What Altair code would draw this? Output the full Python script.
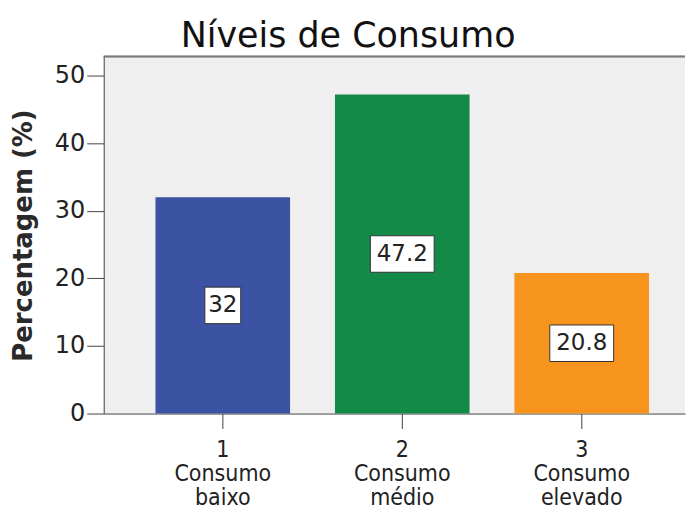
import altair as alt
import pandas as pd

codes = ["1", "2", "3"]
names = ["Consumo baixo", "Consumo médio", "Consumo elevado"]
values = [32, 47.2, 20.8]
colors = ["#3c52a3", "#138a47", "#f7941d"]

cats = [c + "\n" + n.replace(" ", "\n") for c, n in zip(codes, names)]
df = pd.DataFrame({"cat": cats, "pct": values})

W, H = 583, 358
FONT = "DejaVu Sans"

x_axis = alt.Axis(labelExpr="split(datum.label, '\\n')", labelAngle=0, tickSize=15,
                  labelPadding=10, labelFontSize=23, labelLineHeight=24, labelFont="DejaVu Sans Condensed",
                  domainColor="#444", tickColor="#444", labelColor="#222", title=None)
x = alt.X("cat:N", sort=cats, title=None,
          scale=alt.Scale(paddingInner=0.25, paddingOuter=0.2444, align=0.59), axis=x_axis)

y_axis = alt.Axis(values=[0, 10, 20, 30, 40, 50], tickSize=17, labelPadding=2, labelFontSize=24,
                  labelFont=FONT, grid=False, domainColor="#444", tickColor="#444", labelColor="#222",
                  title="Percentagem (%)", titleFontSize=26, titleFont=FONT, titleFontWeight="bold",
                  titleColor="#2a2a2a", titlePadding=18)
yscale = alt.Scale(domain=[0, 52.8], nice=False)

base = alt.Chart(df)

bars = base.mark_bar().encode(
    x=x,
    y=alt.Y("pct:Q", scale=yscale, axis=y_axis, title="Percentagem (%)", stack=None),
    color=alt.Color("cat:N", scale=alt.Scale(domain=cats, range=colors), legend=None),
)

border = base.mark_rule(color="#7a7a7a", strokeWidth=1.5).encode(
    x=alt.value(0), x2=alt.value(W), y=alt.value(0)
)

boxes = base.transform_calculate(
    lo="datum.pct/2 - 2.7", hi="datum.pct/2 + 2.7",
    bw="length(toString(datum.pct)) * 14 + 8",
).mark_bar(color="white", stroke="#333", strokeWidth=1).encode(
    x=x,
    y=alt.Y("lo:Q", scale=yscale, axis=y_axis, title="Percentagem (%)"),
    y2="hi:Q",
    size=alt.Size("bw:Q", scale=None, legend=None),
)

labels = base.transform_calculate(mid="datum.pct/2").mark_text(
    font=FONT, fontSize=23, color="#222", baseline="middle", align="center"
).encode(
    x=x,
    y=alt.Y("mid:Q", scale=yscale, axis=y_axis, title="Percentagem (%)"),
    text=alt.Text("pct:Q"),
)

chart = alt.layer(bars, border, boxes, labels).properties(
    width=W, height=H,
    padding={"left": 2, "top": 10, "right": 0, "bottom": 0},
    title=alt.TitleParams("Níveis de Consumo", fontSize=35, font=FONT, fontWeight="normal",
                          anchor="middle", frame="bounds", offset=2, color="#111"),
    background="white",
).configure_view(stroke=None, fill="#efefef")

chart.save("out.html", embed_options={"renderer": "svg", "actions": False})
